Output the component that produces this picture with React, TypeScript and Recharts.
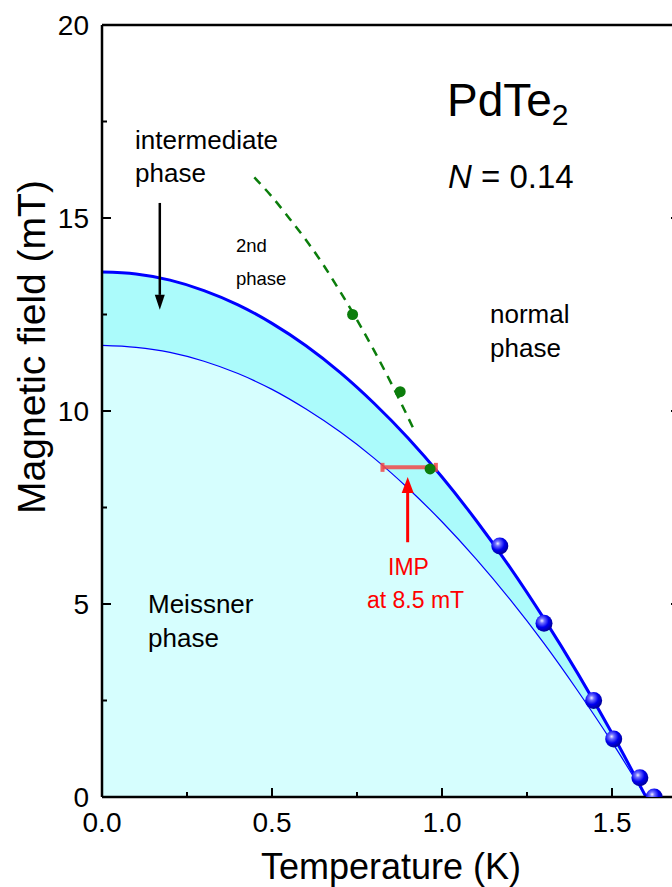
import React from 'react';
import { ComposedChart, Area, Line, Scatter, XAxis, YAxis, ReferenceLine, ErrorBar } from 'recharts';

const curveT = [0, 0.1, 0.2, 0.3, 0.4, 0.5, 0.6, 0.7, 0.8, 0.9, 1.0, 1.1, 1.2, 1.3, 1.4, 1.5, 1.6];
const upperH = [13.6, 13.55, 13.39, 13.12, 12.75, 12.27, 11.69, 11.0, 10.2, 9.3, 8.29, 7.17, 5.95, 4.62, 3.19, 1.65, 0];
const lowerH = [11.7, 11.65, 11.52, 11.29, 10.97, 10.56, 10.05, 9.46, 8.78, 8.0, 7.13, 6.17, 5.12, 3.98, 2.74, 1.42, 0];

// measured points (blue spheres)
const blueT = [1.17, 1.3, 1.446, 1.505, 1.582, 1.624];
const blueH = [6.5, 4.5, 2.5, 1.5, 0.5, 0];

// 2nd phase points and dashed guide
const greenT = [0.737, 0.877, 0.965];
const greenH = [12.5, 10.5, 8.5];
const dashT = [0.448, 0.5, 0.55, 0.6, 0.65, 0.7, 0.75, 0.8, 0.85, 0.92];
const dashH = [16.05, 15.55, 15.0, 14.43, 13.8, 13.1, 12.36, 11.57, 10.73, 9.47];

// IMP measurement
const impT = [0.9035];
const impH = [8.54];
const impErr = [0.0785];

const xTicks = [0, 0.25, 0.5, 0.75, 1.0, 1.25, 1.5];
const yTicks = [0, 2.5, 5, 7.5, 10, 12.5, 15, 17.5, 20];

const upperData = curveT.map((T, i) => ({ T, H: upperH[i] }));
const lowerData = curveT.map((T, i) => ({ T, H: lowerH[i] }));
const blueData = blueT.map((T, i) => ({ T, H: blueH[i] }));
const greenData = greenT.map((T, i) => ({ T, H: greenH[i] }));
const dashData = dashT.map((T, i) => ({ T, H: dashH[i] }));
const impData = impT.map((T, i) => ({ T, H: impH[i], err: impErr[i] }));

const FONT = '"Liberation Sans", Arial, Helvetica, sans-serif';
const AX = { stroke: '#000', strokeWidth: 2.5 };

const major = (v: number, step: number) => Math.abs(v / step - Math.round(v / step)) < 1e-6;

const BottomTick = (p: any) => {
  const v = p.payload.value;
  const m = major(v, 0.5);
  return (
    <g>
      <line x1={p.x} y1={p.y} x2={p.x} y2={p.y - (m ? 9 : 5)} stroke="#000" strokeWidth={2} />
      {m && (
        <text x={p.x} y={p.y + 35} textAnchor="middle" fontSize={28} fontFamily={FONT} fill="#000">
          {v.toFixed(1)}
        </text>
      )}
    </g>
  );
};

const TopTick = (p: any) => {
  const m = major(p.payload.value, 0.5);
  return <line x1={p.x} y1={p.y} x2={p.x} y2={p.y + (m ? 9 : 5)} stroke="#000" strokeWidth={2} />;
};

const LeftTick = (p: any) => {
  const v = p.payload.value;
  const m = major(v, 5);
  return (
    <g>
      <line x1={p.x} y1={p.y} x2={p.x + (m ? 9 : 5)} y2={p.y} stroke="#000" strokeWidth={2} />
      {m && (
        <text x={p.x - 13} y={p.y + 10} textAnchor="end" fontSize={28} fontFamily={FONT} fill="#000">
          {v}
        </text>
      )}
    </g>
  );
};

const RightTick = (p: any) => {
  const m = major(p.payload.value, 5);
  return <line x1={p.x} y1={p.y} x2={p.x - (m ? 9 : 5)} y2={p.y} stroke="#000" strokeWidth={2} />;
};

const arrow = (color: string, sw: number, headLen: number, headW: number) => (p: any) => {
  const { x1, y1, x2, y2 } = p;
  const dir = y2 > y1 ? 1 : -1;
  const by = y2 - dir * headLen;
  return (
    <g>
      <line x1={x1} y1={y1} x2={x2} y2={by} stroke={color} strokeWidth={sw} />
      <polygon points={`${x2},${y2} ${x2 - headW / 2},${by} ${x2 + headW / 2},${by}`} fill={color} />
    </g>
  );
};

const Ball = (p: any) => <circle cx={p.cx} cy={p.cy} r={8.5} fill="url(#ballGrad)" />;
const Dot = (p: any) => <circle cx={p.cx} cy={p.cy} r={5.5} fill="#0b7d0b" />;

export default function App() {
  const txt = { fontFamily: FONT, fill: '#000' };
  return (
    <div style={{ position: 'absolute', left: 0, top: 0, width: 672, height: 887, overflow: 'hidden', background: '#fff' }}>
      <svg width={0} height={0} style={{ position: 'absolute' }}>
        <defs>
          <radialGradient id="ballGrad" cx="38%" cy="35%" r="65%">
            <stop offset="0%" stopColor="#f0f0ff" />
            <stop offset="22%" stopColor="#7070ff" />
            <stop offset="60%" stopColor="#0000f0" />
            <stop offset="100%" stopColor="#00009a" />
          </radialGradient>
        </defs>
      </svg>
      <ComposedChart width={700} height={887} margin={{ top: 24, right: 19, bottom: 89, left: 0 }}>
        <XAxis xAxisId="b" dataKey="T" type="number" domain={[0, 1.7]} allowDataOverflow ticks={xTicks} interval={0}
          height={1} tickSize={0} tickMargin={0} tickLine={false} axisLine={AX} tick={BottomTick} />
        <XAxis xAxisId="t" orientation="top" type="number" domain={[0, 1.7]} allowDataOverflow ticks={xTicks} interval={0}
          height={1} tickSize={0} tickMargin={0} tickLine={false} axisLine={AX} tick={TopTick} />
        <YAxis yAxisId="l" dataKey="H" type="number" domain={[0, 20]} allowDataOverflow ticks={yTicks} interval={0}
          width={102} tickSize={0} tickMargin={0} tickLine={false} axisLine={AX} tick={LeftTick} />
        <YAxis yAxisId="r" orientation="right" type="number" domain={[0, 20]} allowDataOverflow ticks={yTicks} interval={0}
          width={1} tickSize={0} tickMargin={0} tickLine={false} axisLine={AX} tick={RightTick} />

        <Area xAxisId="b" yAxisId="l" data={upperData} dataKey="H" type="monotone" fill="#abfbfb" fillOpacity={1}
          stroke="none" isAnimationActive={false} />
        <Area xAxisId="b" yAxisId="l" data={lowerData} dataKey="H" type="monotone" fill="#d6fefe" fillOpacity={1}
          stroke="none" isAnimationActive={false} />
        <Line xAxisId="b" yAxisId="l" data={lowerData} dataKey="H" type="monotone" stroke="#0000ff" strokeWidth={1.2}
          dot={false} isAnimationActive={false} />
        <Line xAxisId="b" yAxisId="l" data={upperData} dataKey="H" type="monotone" stroke="#0000ff" strokeWidth={3}
          dot={false} isAnimationActive={false} />
        <Line xAxisId="b" yAxisId="l" data={dashData} dataKey="H" type="monotone" stroke="#0b7d0b" strokeWidth={2.5}
          strokeDasharray="9 7" dot={false} isAnimationActive={false} />
        <Scatter xAxisId="b" yAxisId="l" data={impData} dataKey="H" shape={() => <g />} isAnimationActive={false}>
          <ErrorBar dataKey="err" direction="x" stroke="#f04848" strokeOpacity={0.85} strokeWidth={4} width={4.5} />
        </Scatter>
        <Scatter xAxisId="b" yAxisId="l" data={greenData} dataKey="H" shape={Dot} isAnimationActive={false} />
        <Scatter xAxisId="b" yAxisId="l" data={blueData} dataKey="H" shape={Ball} isAnimationActive={false} />

        <ReferenceLine xAxisId="b" yAxisId="l" segment={[{ x: 0.17, y: 15.39 }, { x: 0.17, y: 12.62 }]}
          shape={arrow('#000', 2.5, 15, 10)} />
        <ReferenceLine xAxisId="b" yAxisId="l" segment={[{ x: 0.899, y: 6.6 }, { x: 0.899, y: 8.29 }]}
          shape={arrow('#ff0000', 3, 16, 12)} />
      </ComposedChart>

      <svg width={672} height={887} style={{ position: 'absolute', left: 0, top: 0, pointerEvents: 'none' }}>
        <text x={447} y={116} fontSize={46} {...txt}>
          PdTe<tspan fontSize={30} dy={9}>2</tspan>
        </text>
        <text x={448} y={188} fontSize={33} {...txt}>
          <tspan fontStyle="italic">N</tspan> = 0.14
        </text>
        <text x={135} y={149} fontSize={26} {...txt}>intermediate</text>
        <text x={135} y={182} fontSize={26} {...txt}>phase</text>
        <text x={236} y={252} fontSize={18.5} {...txt}>2nd</text>
        <text x={236} y={285} fontSize={18.5} {...txt}>phase</text>
        <text x={490} y={323} fontSize={26} {...txt}>normal</text>
        <text x={490} y={357} fontSize={26} {...txt}>phase</text>
        <text x={148} y={613} fontSize={26} {...txt}>Meissner</text>
        <text x={148} y={647} fontSize={26} {...txt}>phase</text>
        <text x={388} y={575} fontSize={23} fontFamily={FONT} fill="#ff0000">IMP</text>
        <text x={367} y={608} fontSize={23} fontFamily={FONT} fill="#ff0000">at 8.5 mT</text>
        <text x={391} y={879} fontSize={36} textAnchor="middle" {...txt}>Temperature (K)</text>
        <text x={45} y={347} fontSize={39} textAnchor="middle" transform="rotate(-90 45 347)" {...txt}>
          Magnetic field (mT)
        </text>
      </svg>
    </div>
  );
}
